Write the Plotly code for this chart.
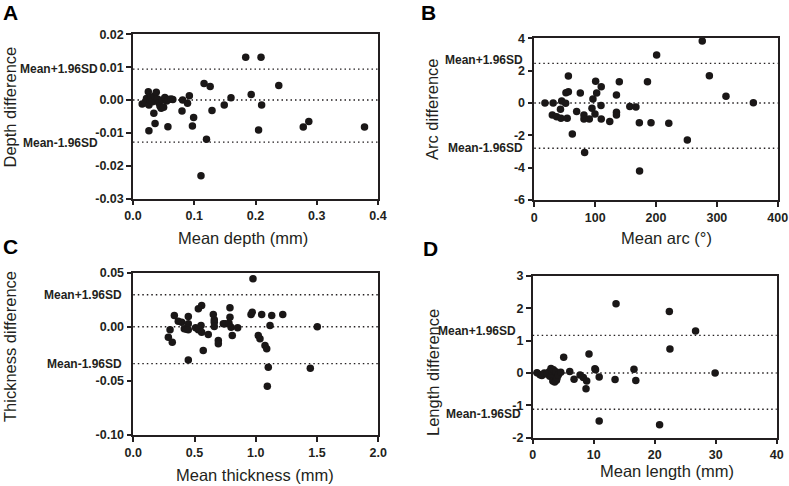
import plotly.graph_objects as go

W, H = 789, 486

# ---------------- data ----------------
depth_mean = [0.015, 0.020, 0.022, 0.025, 0.026, 0.026, 0.028, 0.030, 0.032, 0.034, 0.035, 0.036,
              0.038, 0.040, 0.042, 0.044, 0.046, 0.048, 0.050, 0.052, 0.055, 0.057, 0.058, 0.062,
              0.065, 0.080, 0.081, 0.089, 0.092, 0.097, 0.099, 0.111, 0.116, 0.120, 0.126, 0.129,
              0.149, 0.160, 0.184, 0.193, 0.205, 0.209, 0.210, 0.238, 0.278, 0.287, 0.378]
depth_diff = [-0.0012, -0.0008, 0.0005, 0.0025, -0.0015, -0.0093, 0.0000, 0.0008, -0.0005, -0.0040,
              0.0012, -0.0071, 0.0024, 0.0003, -0.0008, -0.0018, -0.0025, 0.0000, -0.0022, 0.0008,
              -0.0003, -0.0081, 0.0002, 0.0003, 0.0002, -0.0033, 0.0000, -0.0010, 0.0013, -0.0079,
              -0.0053, -0.0230, 0.0050, -0.0119, 0.0041, -0.0032, -0.0015, 0.0007, 0.0130, 0.0017,
              -0.0091, 0.0130, -0.0015, 0.0044, -0.0082, -0.0065, -0.0082]
depth_limits = [0.0094, 0.0, -0.0128]

arc_mean = [17.5, 31, 29.6, 36.7, 43.8, 45, 43, 51.5, 54, 52, 56, 56, 62.5, 69.6, 75.6, 81.6, 81.6,
            82.7, 90.4, 94.8, 96.4, 99.7, 100.8, 102.5, 110, 109.6, 110, 124, 135, 135, 135, 139.7,
            157, 167, 172.6, 173, 186, 191.8, 201, 221, 251.5, 276, 287.7, 315, 360]
arc_diff = [0.0, 0.0, -0.74, -0.85, -0.95, 0.12, -0.39, -0.02, -0.95, 0.64, 0.70, 1.67, -1.92, -0.52,
            0.62, -0.74, -0.99, -3.07, -0.99, -0.33, 0.25, -0.68, 1.34, 0.62, -0.99, -0.16, 1.01,
            -1.15, 0.49, -0.58, -0.74, 1.32, -0.21, -0.25, -1.22, -4.21, 1.32, -1.22, 2.97, -1.26,
            -2.29, 3.84, 1.69, 0.41, 0.02]
arc_limits = [2.45, 0.0, -2.80]

thick_mean = [0.286, 0.300, 0.318, 0.335, 0.367, 0.395, 0.416, 0.435, 0.449, 0.449, 0.449, 0.449,
              0.509, 0.531, 0.531, 0.540, 0.553, 0.558, 0.558, 0.571, 0.612, 0.653, 0.661, 0.661,
              0.661, 0.694, 0.694, 0.735, 0.750, 0.781, 0.789, 0.789, 0.798, 0.808, 0.852, 0.961,
              0.971, 0.977, 1.020, 1.034, 1.048, 1.075, 1.089, 1.094, 1.102, 1.116, 1.130, 1.220,
              1.445, 1.502]
thick_diff = [-0.0096, -0.0028, -0.0142, 0.0105, 0.0052, 0.0043, -0.0019, -0.0022, 0.0095, 0.0028,
              -0.0028, -0.0306, -0.0009, -0.0028, 0.0167, -0.0019, 0.0012, -0.0050, 0.0197, -0.0219,
              -0.0071, 0.0114, 0.0065, 0.0043, 0.0003, -0.0127, -0.0157, 0.0028, 0.0028, 0.0033,
              0.0176, 0.0089, -0.0004, -0.0081, -0.0009, 0.0114, 0.0135, 0.0444, -0.0081, -0.0111,
              0.0114, -0.0173, -0.0204, -0.0549, -0.0374, 0.0012, 0.0105, 0.0114, -0.0383, 0.0000]
thick_limits = [0.0296, 0.0, -0.034]

len_mean = [0.7, 1.2, 1.5, 1.9, 2.3, 2.7, 2.8, 3.0, 3.1, 3.2, 3.3, 3.4, 3.6, 3.8, 3.9, 4.0, 4.2, 4.6,
            5.08, 6.07, 6.78, 7.76, 8.3, 8.74, 8.85, 9.23, 10.2, 10.3, 10.9, 10.9, 13.5, 13.66, 16.6,
            16.9, 20.8, 22.4, 22.5, 26.7, 29.9]
len_diff = [0.01, -0.05, -0.08, 0.0, -0.03, 0.04, -0.10, 0.14, -0.08, 0.06, -0.25, 0.10, -0.28, 0.04,
            -0.22, -0.15, -0.06, 0.02, 0.49, 0.05, -0.19, -0.06, -0.14, -0.49, -0.25, 0.59, 0.13,
            0.10, -0.12, -1.48, -0.20, 2.14, 0.12, -0.23, -1.60, 1.90, 0.74, 1.30, 0.0]
len_limits = [1.165, 0.0, -1.12]

# ---------------- layout helpers ----------------
def px_x(x):
    return x / W

def px_y(y):
    return 1 - y / H

FONT = "Arial, Liberation Sans, Helvetica, sans-serif"
INK = "#231f20"

panels = [
    dict(x=depth_mean, y=depth_diff, lim=depth_limits, xr=[0, 0.4], yr=[-0.03, 0.02],
         xt=[0, 0.1, 0.2, 0.3, 0.4], xl=["0.0", "0.1", "0.2", "0.3", "0.4"],
         yt=[0.02, 0.01, 0.0, -0.01, -0.02, -0.03], yl=["0.02", "0.01", "0.00", "-0.01", "-0.02", "-0.03"],
         box=(133, 378, 34.3, 198.7)),
    dict(x=arc_mean, y=arc_diff, lim=arc_limits, xr=[0, 400], yr=[-6, 4],
         xt=[0, 100, 200, 300, 400], xl=["0", "100", "200", "300", "400"],
         yt=[4, 2, 0, -2, -4, -6], yl=["4", "2", "0", "-2", "-4", "-6"],
         box=(534.3, 777.7, 38.3, 200)),
    dict(x=thick_mean, y=thick_diff, lim=thick_limits, xr=[0, 2.0], yr=[-0.10, 0.05],
         xt=[0, 0.5, 1.0, 1.5, 2.0], xl=["0.0", "0.5", "1.0", "1.5", "2.0"],
         yt=[0.05, 0.0, -0.05, -0.10], yl=["0.05", "0.00", "-0.05", "-0.10"],
         box=(133.3, 378.3, 272.7, 435)),
    dict(x=len_mean, y=len_diff, lim=len_limits, xr=[0, 40], yr=[-2, 3],
         xt=[0, 10, 20, 30, 40], xl=["0", "10", "20", "30", "40"],
         yt=[3, 2, 1, 0, -1, -2], yl=["3", "2", "1", "0", "-1", "-2"],
         box=(532.7, 776.7, 276, 437.7)),
]

fig = go.Figure()
layout = dict(width=W, height=H, margin=dict(l=0, r=0, t=0, b=0, autoexpand=False),
              paper_bgcolor="white", plot_bgcolor="white", showlegend=False)
shapes = []
annotations = []

for i, p in enumerate(panels, start=1):
    sx = "" if i == 1 else str(i)
    l, r, t, b = p["box"]
    fig.add_trace(go.Scatter(x=p["x"], y=p["y"], mode="markers", xaxis="x" + sx, yaxis="y" + sx,
                             marker=dict(size=7.5, color="#1a1717", line=dict(width=0)),
                             hoverinfo="skip", cliponaxis=False))
    axis_common = dict(showline=True, mirror=True, linecolor=INK, linewidth=1.5,
                       ticks="outside", ticklen=5, tickwidth=1.5, tickcolor=INK,
                       showgrid=False, zeroline=False, automargin=False,
                       tickfont=dict(family=FONT, size=12.5, color=INK, weight="bold"))
    layout["xaxis" + sx] = dict(axis_common, domain=[px_x(l), px_x(r)], range=p["xr"],
                                tickvals=p["xt"], ticktext=p["xl"], anchor="y" + sx)
    layout["yaxis" + sx] = dict(axis_common, domain=[px_y(b), px_y(t)], range=p["yr"],
                                tickvals=p["yt"], ticktext=p["yl"], anchor="x" + sx)
    for v in p["lim"]:
        shapes.append(dict(type="line", xref="x" + sx + " domain", x0=0, x1=1,
                           yref="y" + sx, y0=v, y1=v, layer="below",
                           line=dict(color=INK, width=1.4, dash="1.5px,3px")))

# Mean ± 1.96SD labels: (panel index, limit index, x shift px, y shift px)
lab_specs = [
    (1, 0, -33, 0), (1, 2, -33, -1),
    (2, 0, -9, 3), (2, 2, -9, 0),
    (3, 0, -9, 0), (3, 2, -9, 0),
    (4, 0, -15, 4), (4, 2, -10, -5),
]
for pi, li, xs, ys in lab_specs:
    sx = "" if pi == 1 else str(pi)
    text = "Mean+1.96SD" if li == 0 else "Mean-1.96SD"
    annotations.append(dict(text=text, xref="x" + sx + " domain", x=0, yref="y" + sx,
                            y=panels[pi - 1]["lim"][li], xanchor="right", yanchor="middle",
                            xshift=xs, yshift=ys, showarrow=False,
                            font=dict(family=FONT, size=12, color=INK, weight="bold")))

# Axis titles (text, x px, y px, angle)
titles = [
    ("Depth difference", 9.5, 107, -90), ("Mean depth (mm)", 243, 238, 0),
    ("Arc difference", 432, 109, -90), ("Mean arc (°)", 666, 238, 0),
    ("Thickness difference", 10, 347, -90), ("Mean thickness (mm)", 255, 475, 0),
    ("Length difference", 433, 372, -90), ("Mean length (mm)", 667, 471, 0),
]
for txt, x, y, ang in titles:
    annotations.append(dict(text=txt, xref="paper", yref="paper", x=px_x(x), y=px_y(y),
                            xanchor="center", yanchor="middle", textangle=ang, showarrow=False,
                            font=dict(family=FONT, size=16.5, color=INK)))

# Panel letters
for txt, x, y in [("A", 10, 12), ("B", 428, 12), ("C", 10, 247), ("D", 430, 248)]:
    annotations.append(dict(text=txt, xref="paper", yref="paper", x=px_x(x), y=px_y(y),
                            xanchor="center", yanchor="middle", showarrow=False,
                            font=dict(family=FONT, size=21, color="black", weight="bold")))

layout["shapes"] = shapes
layout["annotations"] = annotations
fig.update_layout(**layout)
fig.write_html("out.html", config={"displayModeBar": False},
               post_script="document.body.style.margin='0';document.body.style.padding='0';")
